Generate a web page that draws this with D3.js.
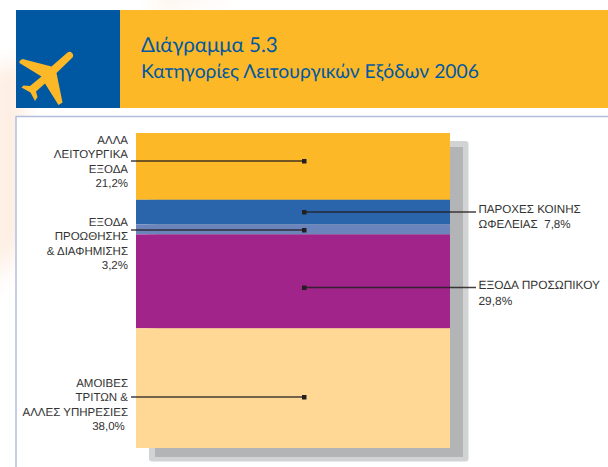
<!DOCTYPE html>
<html>
<head>
<meta charset="utf-8">
<script src="https://cdn.jsdelivr.net/npm/d3@7"></script>
<style>
body { margin: 0; background: #fff; }
svg { display: block; }
text { font-family: "Liberation Sans", Arial, sans-serif; fill: #333; text-rendering: geometricPrecision; }
</style>
</head>
<body>
<div id="chart"></div>
<script>
// top to bottom, as stacked in the picture
const categories = ["ΑΛΛΑ ΛΕΙΤΟΥΡΓΙΚΑ ΕΞΟΔΑ", "ΠΑΡΟΧΕΣ ΚΟΙΝΗΣ ΩΦΕΛΕΙΑΣ", "ΕΞΟΔΑ ΠΡΟΩΘΗΣΗΣ & ΔΙΑΦΗΜΙΣΗΣ", "ΕΞΟΔΑ ΠΡΟΣΩΠΙΚΟΥ", "ΑΜΟΙΒΕΣ ΤΡΙΤΩΝ & ΑΛΛΕΣ ΥΠΗΡΕΣΙΕΣ"];
const values = [21.2, 7.8, 3.2, 29.8, 38.0];
const colors = ["#fdb827", "#2a64ab", "#6c84bc", "#a0248a", "#fed894"];
const labelLines = [
    ["ΑΛΛΑ", "ΛΕΙΤΟΥΡΓΙΚΑ", "ΕΞΟΔΑ", "21,2%"],
    ["ΠΑΡΟΧΕΣ ΚΟΙΝΗΣ", "ΩΦΕΛΕΙΑΣ\u00a0\u00a07,8%"],
    ["ΕΞΟΔΑ", "ΠΡΟΩΘΗΣΗΣ", "& ΔΙΑΦΗΜΙΣΗΣ", "3,2%"],
    ["ΕΞΟΔΑ ΠΡΟΣΩΠΙΚΟΥ", "29,8%"],
    ["ΑΜΟΙΒΕΣ", "ΤΡΙΤΩΝ &", "ΑΛΛΕΣ ΥΠΗΡΕΣΙΕΣ", "38,0%\u00a0"]
];
const titleLines = ["Διάγραμμα 5.3", "Κατηγορίες Λειτουργικών Εξόδων 2006"];

const width = 608;
const height = 467;

const svg = d3.select("#chart").append("svg")
    .attr("width", width)
    .attr("height", height);

// faint orange glow behind the page
const defs = svg.append("defs");
const blur = defs.append("filter").attr("id", "soft")
    .attr("x", "-50%").attr("y", "-50%").attr("width", "200%").attr("height", "200%");
blur.append("feGaussianBlur").attr("stdDeviation", 10);
svg.append("path")
    .attr("d", "M-10,70 L25,60 L25,240 L-10,290 Z")
    .attr("fill", "#fdeee2")
    .attr("filter", "url(#soft)");
svg.append("path")
    .attr("d", "M150,12 L240,-6 L160,-6 Z")
    .attr("fill", "#fdf0e4")
    .attr("filter", "url(#soft)");

// panel, open on the right and the bottom
svg.append("rect").attr("x", 16).attr("y", 116).attr("width", 592).attr("height", 351).attr("fill", "#fff");
svg.append("path")
    .attr("d", "M16,467 V116.5 H608")
    .attr("fill", "none")
    .attr("stroke", "#b3bede")
    .attr("stroke-width", 1.5);

// header band
svg.append("rect").attr("x", 16).attr("y", 10).attr("width", 104).attr("height", 98).attr("fill", "#0058a3");
svg.append("rect").attr("x", 120).attr("y", 10).attr("width", 488).attr("height", 98).attr("fill", "#fdb827");

svg.append("path")
    .attr("d", "M72,53 Q70,51 67.5,52.5 L51.5,66.5 L22.5,59 L19.5,61 L19.5,63 L41.5,76.5 L30,86 L23.5,85.5 L21.5,87.5 L30.5,92.5 L35,101 L37.5,97 L36,91.5 L45,83.5 L58.5,105 L62.5,102.5 L56.5,73 L72.5,57.5 Q74,55 72,53 Z")
    .attr("fill", "#fdb827");

svg.selectAll(".title").data(titleLines).enter().append("text")
    .attr("class", "title")
    .attr("x", 141)
    .attr("y", (d, i) => i === 0 ? 52 : 78)
    .style("font-family", "Lato, sans-serif")
    .style("font-size", (d, i) => i === 0 ? "20.6px" : "19.3px")
    .style("fill", "#0058a3")
    .text(d => d);

// stack
const y = d3.scaleLinear().domain([0, d3.sum(values)]).range([133, 448]);
const x = d3.scaleLinear().domain([0, 1]).range([136, 450]);

let acc = 0;
const stack = values.map((v, i) => {
    const s = { name: categories[i], value: v, color: colors[i], lines: labelLines[i], start: acc };
    acc += v;
    return s;
});

// shadow behind the stack
svg.append("rect").attr("x", 149).attr("y", 141).attr("width", 319.5).attr("height", 320.5).attr("rx", 3)
    .attr("fill", "#d2d3d5");
svg.append("rect").attr("x", 155).attr("y", 147).attr("width", 308).attr("height", 310)
    .attr("fill", "#b3b4b6");

svg.selectAll(".seg").data(stack).enter().append("rect")
    .attr("class", "seg")
    .attr("x", x(0))
    .attr("y", d => y(d.start))
    .attr("width", x(1) - x(0))
    .attr("height", d => y(d.start + d.value) - y(d.start))
    .attr("fill", d => d.color);

// leader lines and labels
const leaders = [
    { lineY: 161, side: "left", textY: 144, gap: 14.4, size: 11.5 },
    { lineY: 212, side: "right", textY: 213, gap: 15, size: 11.6 },
    { lineY: 230, side: "left", textY: 226, gap: 14.4, size: 11.5 },
    { lineY: 287.5, side: "right", textY: 289, gap: 15.5, size: 11.9 },
    { lineY: 397, side: "left", textY: 387, gap: 14.4, size: 11.5 }
];

stack.forEach((d, i) => {
    const l = leaders[i];
    const left = l.side === "left";
    svg.append("line")
        .attr("x1", left ? 131 : 476)
        .attr("x2", 304)
        .attr("y1", l.lineY)
        .attr("y2", l.lineY)
        .attr("stroke", "#231f20")
        .attr("stroke-opacity", 0.85)
        .attr("stroke-width", 1.3);
    svg.append("rect")
        .attr("x", 302)
        .attr("y", l.lineY - 2)
        .attr("width", 4.5)
        .attr("height", 4.5)
        .attr("fill", "#231f20");
    svg.selectAll(null).data(d.lines).enter().append("text")
        .attr("x", left ? 128 : 478.5)
        .attr("y", (t, j) => l.textY + j * l.gap)
        .attr("text-anchor", left ? "end" : "start")
        .style("font-size", l.size + "px")
        .text(t => t);
});
</script>
</body>
</html>
